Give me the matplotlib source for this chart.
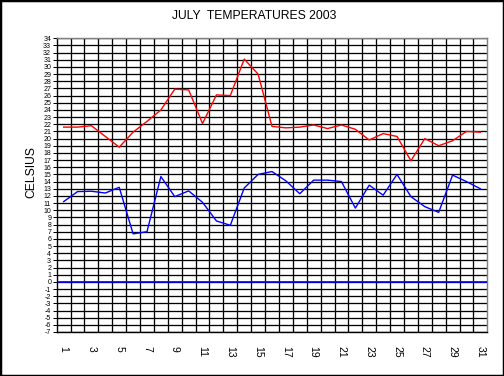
import matplotlib
matplotlib.use('Agg')
import matplotlib.pyplot as plt
from matplotlib.patches import Rectangle
from matplotlib.ticker import FixedLocator

# daily values (degrees C)
days = list(range(1, 32))
max_temp = [21.6, 21.6, 21.8, 20.3, 18.8, 20.9, 22.4, 24.0, 26.9, 26.8,
            22.1, 26.1, 26.0, 31.1, 29.0, 21.7, 21.5, 21.6, 21.9, 21.4,
            21.9, 21.3, 19.8, 20.7, 20.3, 16.9, 20.0, 19.0, 19.7, 21.0, 20.9]
min_temp = [11.2, 12.6, 12.65, 12.4, 13.2, 6.7, 7.0, 14.7, 11.9, 12.7,
            11.1, 8.5, 7.9, 13.1, 15.0, 15.4, 14.1, 12.3, 14.2, 14.2,
            14.0, 10.3, 13.5, 12.1, 15.0, 11.9, 10.5, 9.7, 14.9, 14.0, 13.0]
day_labels = [str(d) for d in days if d % 2 == 1]
y_ticks = list(range(-7, 35))

title = 'JULY  TEMPERATURES 2003'
y_title = 'CELSIUS'

plt.rcParams['font.family'] = ['Liberation Sans', 'DejaVu Sans']

W, H = 504, 376
fig = plt.figure(figsize=(W / 100, H / 100), dpi=100)
fig.patch.set_facecolor('white')

# plot area in pixel coords
left, right, top, bottom = 56.7, 487.3, 38.3, 332.0
ax = fig.add_axes([left / W, 1 - bottom / H, (right - left) / W, (bottom - top) / H])

px = 0.72  # one pixel in points

ax.plot(days, max_temp, color='#ff0000', lw=1.0, zorder=3)
ax.plot(days, min_temp, color='#0000ff', lw=1.0, zorder=3)
ax.axhline(0, color='#0000ff', lw=1.2, zorder=3)

ax.set_xlim(0.5, 31.5)
ax.set_ylim(-7, 34)

# y axis: every degree, with gridlines
ax.set_yticks(y_ticks)
ax.set_yticklabels([str(v) for v in y_ticks], fontsize=5)
ax.tick_params(axis='y', length=3, width=px, pad=1, color='black')
ax.grid(True, axis='y', which='major', color='black', lw=px * 1.3)

# x axis: labels on odd days, gridlines at category boundaries
ax.set_xticks([d for d in days if d % 2 == 1])
ax.set_xticklabels(day_labels, rotation=-90, fontsize=7.5, va='top')
ax.tick_params(axis='x', which='major', length=0, pad=10)
ax.xaxis.set_minor_locator(FixedLocator([d + 0.5 for d in days[:-1]]))
ax.tick_params(axis='x', which='minor', length=0)
ax.grid(True, axis='x', which='minor', color='black', lw=px * 1.3)
ax.set_axisbelow(True)

for side in ['left', 'bottom']:
    ax.spines[side].set_color('black')
    ax.spines[side].set_linewidth(px * 1.4)
for side in ['top', 'right']:
    ax.spines[side].set_color('#808080')
    ax.spines[side].set_linewidth(px * 1.4)

fig.text(253.7 / W, 1 - 16 / H, title, ha='center', va='center', fontsize=8.7)
fig.text(31 / W, 1 - 172 / H, y_title, ha='center', va='center',
         rotation=90, fontsize=8.7)

# black frame round the whole picture
fig.patches.append(Rectangle((0, 0), 1, 1, transform=fig.transFigure,
                             fill=False, edgecolor='black', lw=2.5))

fig.savefig('out.png', dpi=100)
